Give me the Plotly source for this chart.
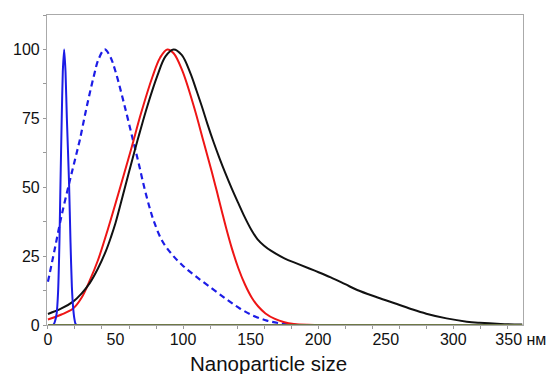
import plotly.graph_objects as go

# ---- data ----
blue_solid_x = [4, 5, 6.4, 7.5, 8.5, 9.3, 10.2, 11, 12, 13, 14, 15.6, 16.7, 17.7, 18.6, 19.5, 20.5, 21.5]
blue_solid_y = [0, 1, 4, 12, 30, 52, 75, 92, 100, 92, 75, 52, 30, 14, 6.6, 2.5, 0.3, 0]

blue_dash_x = [0, 5, 10, 16, 20, 23.5, 28.4, 33.8, 37.5, 42, 46, 50, 56.5, 63, 67, 71, 75, 78.5, 84.6,
               92, 99.3, 109, 121.3, 132.3, 142, 152, 162, 172, 185]
blue_dash_y = [15.7, 27.5, 39.5, 52, 60, 67, 78.5, 90, 96.5, 100, 97.5, 92, 80, 67, 59, 50.5, 43, 37.5, 30.5,
               25.5, 21.8, 17.8, 13.3, 9.3, 6, 3.4, 1.6, 0.6, 0]

red_x = [0, 10, 18.6, 25, 30.8, 37, 44.2, 53.5, 61.4, 69, 77.3, 83, 88.3, 93, 99.3, 107.9, 115.2,
         121.3, 125, 128.6, 132, 136, 141, 146, 151, 155.5, 161, 168, 175, 182, 192, 205]
red_y = [2, 3.8, 6, 10, 16, 23.5, 34.5, 50, 63.5, 77, 90, 97, 100, 98.6, 92.5, 79.5, 66.5,
         55.5, 48.5, 41.5, 35, 28, 20.5, 14.5, 9.8, 6.8, 4.2, 2.2, 1.0, 0.4, 0.1, 0]

black_x = [0, 10, 18.6, 25, 30.8, 37, 43, 46.7, 50, 56.5, 63.8, 68, 73.6, 81, 87, 93, 99, 105.4, 110,
           114, 118, 122.5, 127, 131, 136, 140.9, 145, 150.6, 155, 160, 165.3, 175, 184.9, 197,
           209.3, 220, 228.9, 244, 258.3, 270, 280, 295, 310, 319.4, 335, 351]
black_y = [4, 6, 8.5, 11.5, 15.1, 20.5, 27, 32, 37, 49, 62.5, 70, 79.5, 90.5, 97.5, 100, 98, 91.4, 85,
           79.2, 73, 66.5, 60.5, 55.5, 49.6, 44.2, 39.8, 34.5, 31.2, 28.8, 26.9, 24.2, 22.2, 19.8,
           17.3, 14.8, 12.7, 10, 7.6, 5.6, 4.1, 2.4, 1.2, 0.8, 0.4, 0.2]

base_x = [0, 351]
base_y = [0, 0]

x_tick_vals = [0, 50, 100, 150, 200, 250, 300, 350]
x_tick_text = ["0", "50", "100", "150", "200", "250", "300", "350 нм"]
y_tick_vals = [0, 25, 50, 75, 100]
y_tick_text = ["0", "25", "50", "75", "100"]
x_title = "Nanoparticle size"

fig = go.Figure()
fig.add_trace(go.Scatter(x=blue_dash_x, y=blue_dash_y, mode="lines",
                         line=dict(color="#1c1ce6", width=2.2, dash="6px,4px", shape="spline", smoothing=1.0)))
fig.add_trace(go.Scatter(x=red_x, y=red_y, mode="lines",
                         line=dict(color="#ee1515", width=2, shape="spline", smoothing=1.0)))
fig.add_trace(go.Scatter(x=black_x, y=black_y, mode="lines",
                         line=dict(color="#111111", width=2, shape="spline", smoothing=1.0)))
fig.add_trace(go.Scatter(x=blue_solid_x, y=blue_solid_y, mode="lines",
                         line=dict(color="#1c1ce6", width=2, shape="spline", smoothing=0.6)))
fig.add_trace(go.Scatter(x=base_x, y=base_y, mode="lines", cliponaxis=False,
                         line=dict(color="#6e7847", width=2.2)))

font = dict(family="Liberation Sans, Arial, sans-serif", size=16, color="#111111")

fig.update_layout(
    width=558, height=374,
    margin=dict(l=47, r=31, t=15, b=49),
    paper_bgcolor="white", plot_bgcolor="white",
    showlegend=False,
    font=font,
    xaxis=dict(range=[-0.7, 351.6], tickmode="array", tickvals=x_tick_vals, ticktext=x_tick_text,
               ticks="", showgrid=False, zeroline=False, showline=True, linecolor="#aaaaaa",
               linewidth=1.2, mirror=True, tickfont=font,
               minor=dict(tick0=0, dtick=20, ticks="outside", ticklen=3, tickcolor="#999999",
                          showgrid=False)),
    yaxis=dict(range=[0, 112.5], tickmode="array", tickvals=y_tick_vals, ticktext=y_tick_text,
               ticks="outside", ticklen=3, tickcolor="#999999", showgrid=False, zeroline=False,
               showline=True, linecolor="#aaaaaa", linewidth=1.2, mirror=True, tickfont=font,
               minor=dict(tick0=0, dtick=12.5, ticks="outside", ticklen=3, tickcolor="#999999",
                          showgrid=False)),
    annotations=[dict(text=x_title, xref="paper", yref="paper", x=0.465, y=-0.125,
                      xanchor="center", yanchor="middle", showarrow=False,
                      font=dict(family="Liberation Sans, Arial, sans-serif", size=20.5, color="#111111"))],
)

fig.write_html("out.html")
